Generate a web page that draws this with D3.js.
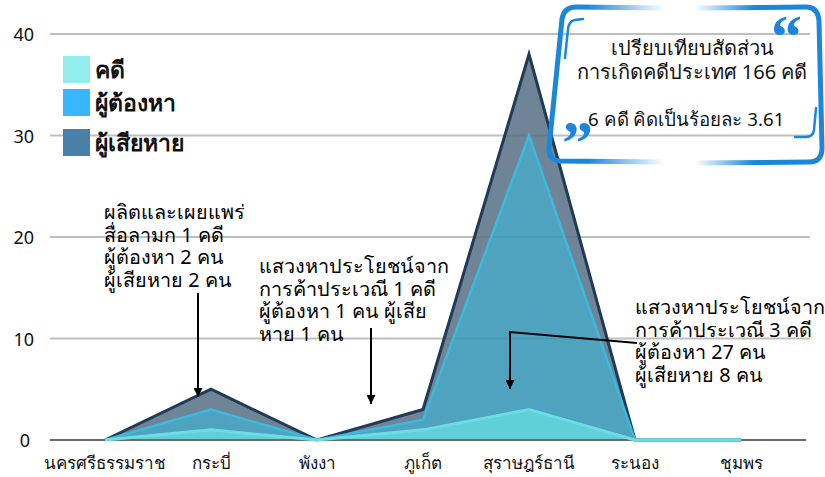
<!DOCTYPE html>
<html>
<head>
<meta charset="utf-8">
<script src="https://cdn.jsdelivr.net/npm/d3@7"></script>
<style>
  html, body { margin: 0; padding: 0; background: #fff; }
  svg { display: block; font-family: "Noto Sans", "DejaVu Sans", sans-serif; }
</style>
</head>
<body>
<div id="chart"></div>
<script>
// Provinces on the x axis
const provinces = ["นครศรีธรรมราช", "กระบี่", "พังงา", "ภูเก็ต", "สุราษฎร์ธานี", "ระนอง", "ชุมพร"];
// Series values (stacked on top of each other)
const cases = [0, 1, 0, 1, 3, 0, 0];
const suspects = [0, 2, 0, 1, 27, 0, 0];
const victims = [0, 2, 0, 1, 8, 0, 0];
const seriesNames = ["คดี", "ผู้ต้องหา", "ผู้เสียหาย"];
const yTicks = [0, 10, 20, 30, 40];

const boxLines = ["เปรียบเทียบสัดส่วน", "การเกิดคดีประเทศ 166 คดี"];
const boxNote = "6 คดี คิดเป็นร้อยละ 3.61";
const note1 = ["ผลิตและเผยแพร่", "สื่อลามก 1 คดี", "ผู้ต้องหา 2 คน", "ผู้เสียหาย 2 คน"];
const note2 = ["แสวงหาประโยชน์จาก", "การค้าประเวณี 1 คดี", "ผู้ต้องหา 1 คน ผู้เสีย", "หาย 1 คน"];
const note3 = ["แสวงหาประโยชน์จาก", "การค้าประเวณี 3 คดี", "ผู้ต้องหา 27 คน", "ผู้เสียหาย 8 คน"];

const W = 825, H = 477;
const svg = d3.select("#chart").append("svg")
    .attr("width", W)
    .attr("height", H);

const x = d3.scalePoint().domain(provinces).range([105, 741]);
const y = d3.scaleLinear().domain([0, 40]).range([440, 34]);

// Build table for d3.stack
const table = provinces.map((p, i) => ({
    province: p,
    "คดี": cases[i],
    "ผู้ต้องหา": suspects[i],
    "ผู้เสียหาย": victims[i]
}));
const stacked = d3.stack().keys(seriesNames)(table);

// Gridlines
svg.append("g")
    .selectAll("line")
    .data(yTicks.filter(t => t > 0))
    .join("line")
    .attr("x1", 50).attr("x2", 810)
    .attr("y1", d => y(d)).attr("y2", d => y(d))
    .attr("stroke", "#bfbfbf")
    .attr("stroke-width", 2);

// Tick labels
svg.append("g")
    .selectAll("text")
    .data(yTicks)
    .join("text")
    .attr("x", d => d === 0 ? 30 : 34)
    .attr("y", d => y(d) + 7)
    .attr("text-anchor", "end")
    .attr("font-size", 18)
    .attr("fill", "#111")
    .text(d => d);

// Areas
const bandFill = ["#49c8d3", "#3796b6", "#5c7389"];
const lineColor = ["#6edce3", "#3cbadb", "#1f3b57"];
const lineWidth = [3, 2.5, 3];

const area = d3.area()
    .x(d => x(d.data.province))
    .y0(d => y(d[0]))
    .y1(d => y(d[1]));
const topLine = d3.line()
    .x(d => x(d.data.province))
    .y(d => y(d[1]));

svg.append("g")
    .selectAll("path")
    .data(stacked)
    .join("path")
    .attr("d", area)
    .attr("fill", (d, i) => bandFill[i])
    .attr("fill-opacity", 0.88);

// Baseline
svg.append("line")
    .attr("x1", 50).attr("x2", 806)
    .attr("y1", y(0)).attr("y2", y(0))
    .attr("stroke", "#6b6b6b")
    .attr("stroke-width", 2);

svg.append("g")
    .selectAll("path")
    .data(stacked.slice().reverse())
    .join("path")
    .attr("d", topLine)
    .attr("fill", "none")
    .attr("stroke", d => lineColor[d.index])
    .attr("stroke-width", d => lineWidth[d.index])
    .attr("stroke-linejoin", "miter");

// X labels
svg.append("g")
    .selectAll("text")
    .data(provinces)
    .join("text")
    .attr("x", d => x(d))
    .attr("y", 469)
    .attr("text-anchor", "middle")
    .attr("font-size", 17)
    .attr("fill", "#111")
    .text(d => d);

// Legend
const legendColors = ["#93edef", "#38b6ff", "#4a7fa8"];
const legendY = [56, 89, 129];
const legend = svg.append("g");
seriesNames.forEach((name, i) => {
    legend.append("rect")
        .attr("x", 63).attr("y", legendY[i])
        .attr("width", 27).attr("height", 27)
        .attr("fill", legendColors[i]);
    legend.append("text")
        .attr("x", 95).attr("y", legendY[i] + 22)
        .attr("font-size", 23)
        .attr("font-weight", "bold")
        .attr("fill", "#111")
        .text(name);
});

// Annotations
function note(lines, x0, y0) {
    svg.append("g")
        .selectAll("text")
        .data(lines)
        .join("text")
        .attr("x", x0)
        .attr("y", (d, i) => y0 + i * 22.5)
        .attr("font-size", 19.8)
        .attr("fill", "#000")
        .text(d => d);
}
note(note1, 104, 219);
note(note2, 259, 273);
note(note3, 635, 314);

svg.append("defs").append("marker")
    .attr("id", "arrow")
    .attr("viewBox", "0 0 10 10")
    .attr("refX", 10).attr("refY", 5)
    .attr("markerWidth", 4.5).attr("markerHeight", 4.5)
    .attr("orient", "auto")
    .append("path")
    .attr("d", "M0,0L10,5L0,10Z")
    .attr("fill", "#000");

const arrows = [
    [[198, 293], [198, 397]],
    [[371, 328], [371, 404]],
    [[637, 343], [510, 332], [510, 389]]
];
svg.append("g")
    .selectAll("path")
    .data(arrows)
    .join("path")
    .attr("d", d3.line())
    .attr("fill", "none")
    .attr("stroke", "#000")
    .attr("stroke-width", 2)
    .attr("marker-end", "url(#arrow)");

// Quote frame
const defs = svg.select("defs");
const gLeft = defs.append("linearGradient")
    .attr("id", "fadeLeft")
    .attr("gradientUnits", "userSpaceOnUse")
    .attr("x1", 545).attr("x2", 665).attr("y1", 0).attr("y2", 0);
gLeft.append("stop").attr("offset", "0%").attr("stop-color", "#1a86dc").attr("stop-opacity", 1);
gLeft.append("stop").attr("offset", "35%").attr("stop-color", "#1a86dc").attr("stop-opacity", 1);
gLeft.append("stop").attr("offset", "100%").attr("stop-color", "#1a86dc").attr("stop-opacity", 0);
const gRight = defs.append("linearGradient")
    .attr("id", "fadeRight")
    .attr("gradientUnits", "userSpaceOnUse")
    .attr("x1", 695).attr("x2", 825).attr("y1", 0).attr("y2", 0);
gRight.append("stop").attr("offset", "0%").attr("stop-color", "#1a86dc").attr("stop-opacity", 0);
gRight.append("stop").attr("offset", "45%").attr("stop-color", "#1a86dc").attr("stop-opacity", 1);
gRight.append("stop").attr("offset", "100%").attr("stop-color", "#1a86dc").attr("stop-opacity", 1);

const frame = svg.append("g").attr("fill", "none").attr("stroke-linecap", "round");
frame.append("path")
    .attr("d", "M665,8 L576,7 Q564,7 562,19 L549,148 Q548,160 560,161 L665,162")
    .attr("stroke", "url(#fadeLeft)")
    .attr("stroke-width", 5);
frame.append("path")
    .attr("d", "M695,8 L806,7 Q818,7 819,21 L822,148 Q822,162 809,162 L695,163")
    .attr("stroke", "url(#fadeRight)")
    .attr("stroke-width", 5);
frame.append("path")
    .attr("d", "M583,19 L575,20 Q569,21 568,29 L565,58")
    .attr("stroke", "#1a86dc")
    .attr("stroke-width", 2.5);
frame.append("path")
    .attr("d", "M816,108 L814,130 Q813,137 806,137 L795,137")
    .attr("stroke", "#1a86dc")
    .attr("stroke-width", 2.5);

svg.append("text")
    .attr("x", 771).attr("y", 57)
    .attr("font-family", "Liberation Serif, serif")
    .attr("font-weight", "bold")
    .attr("font-size", 62)
    .attr("fill", "#1a86dc")
    .text("\u201C");
svg.append("text")
    .attr("x", 562).attr("y", 163)
    .attr("font-family", "Liberation Serif, serif")
    .attr("font-weight", "bold")
    .attr("font-size", 62)
    .attr("fill", "#1a86dc")
    .text("\u201D");

svg.append("g")
    .selectAll("text")
    .data(boxLines)
    .join("text")
    .attr("x", 692)
    .attr("y", (d, i) => 55 + i * 24)
    .attr("text-anchor", "middle")
    .attr("font-size", 20)
    .attr("fill", "#111")
    .text(d => d);
svg.append("text")
    .attr("x", 588).attr("y", 126)
    .attr("font-size", 18.7)
    .attr("fill", "#111")
    .text(boxNote);
</script>
</body>
</html>
